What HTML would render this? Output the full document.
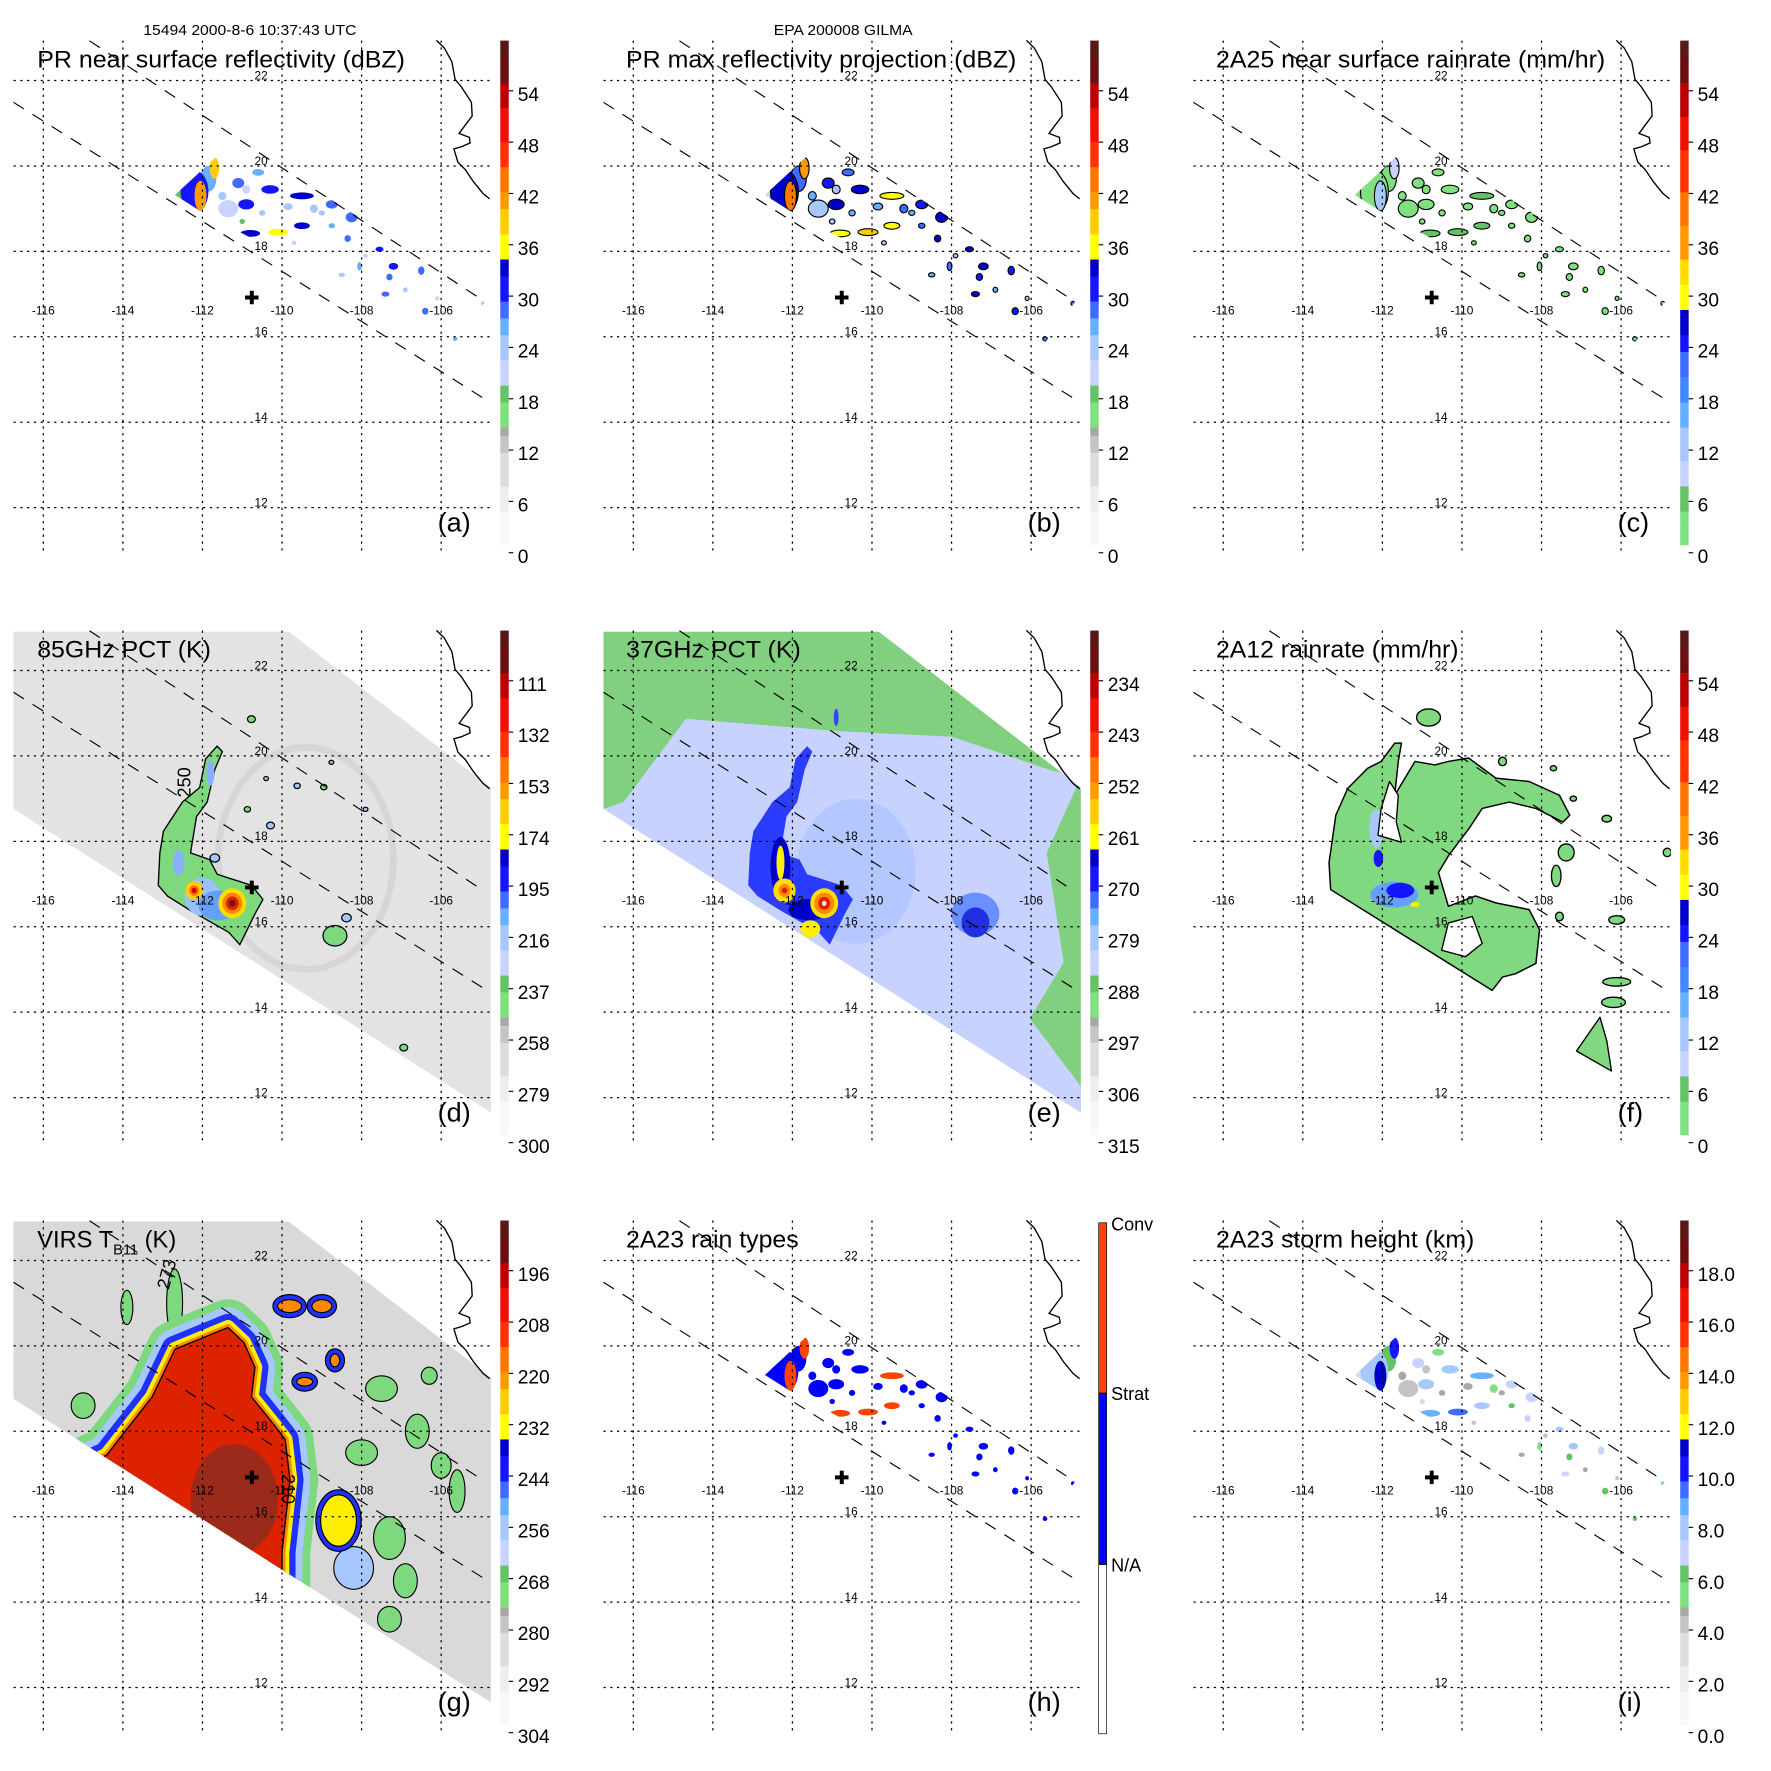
<!DOCTYPE html>
<html><head><meta charset="utf-8"><title>TRMM GILMA</title>
<style>html,body{margin:0;padding:0;background:#fff}svg{display:block}text{font-family:"Liberation Sans",sans-serif}</style>
</head><body>
<svg id="s" xmlns="http://www.w3.org/2000/svg" width="1771" height="1771" viewBox="0 0 1570 1570">
<rect x="0" y="0" width="1570" height="1570" fill="#fff"/>
<defs>
<clipPath id="plotclip"><rect x="12" y="36" width="424" height="454"/></clipPath>
<clipPath id="tmiclip"><polygon id="tmipoly" points=""/></clipPath>
<clipPath id="prclip"><polygon id="prpoly" points=""/></clipPath>
</defs>
<text x="127" y="31" font-size="13" textLength="189" lengthAdjust="spacingAndGlyphs">15494 2000-8-6 10:37:43 UTC</text>
<text x="686" y="31" font-size="13" textLength="123" lengthAdjust="spacingAndGlyphs">EPA 200008 GILMA</text>
</svg>
<script>
// ---------- data ----------
const lonTicks=[-116,-114,-112,-110,-108,-106];
const latTicks=[22,20,18,16,14,12];
const stormLon=-110.76, stormLat=16.92;
const prSwathLon=[-112.69,-111.16,-104.84,-105.64,-111.84];
const prSwathLat=[19.32,20.64,16.89,15.88,18.82];
const tmiSwathLon=[-116.75,-109.83,-104.75,-104.75,-116.75];
const tmiSwathLat=[22.91,22.91,19.26,11.65,18.76];
const prEdgeLon=[[-114.84,-104.90],[-116.75,-104.90]];
const prEdgeLat=[[22.93,16.82],[21.49,14.54]];
const coastLon=[-106.12,-105.92,-105.73,-105.65,-105.49,-105.24,-105.22,-105.44,-105.55,-105.29,-105.27,-105.49,-105.68,-105.58,-105.39,-105.19,-104.95,-104.78];
const coastLat=[22.94,22.76,22.44,22.03,21.85,21.49,21.17,20.90,20.76,20.67,20.54,20.45,20.40,20.09,19.91,19.63,19.36,19.23];
// PR echoes
const echoLon=[-112.2,-112.05,-112.55,-111.7,-111.85,-111.1,-110.9,-110.3,-109.5,-108.75,-108.25,-110.8,-110.1,-109.5,-111.35,-110.6,-109.2,-108.35,-108.75,-107.55,-107.2,-107.3,-106.5,-107.4,-106.4,-106.3,-105.65,-104.95,-108.55,-108.05,-108.5,-107.75,-107.0,-106.8,-109.85,-110.9,-111.5,-110.5,-109.0,-107.9,-106.9,-106.1,-111.0,-109.7];
const echoLat=[19.4,19.3,19.4,19.95,19.7,19.6,19.1,19.45,19.3,19.1,18.8,18.42,18.45,18.6,19.0,19.85,19.0,18.3,18.6,18.05,17.65,17.4,17.55,17.0,16.6,16.1,15.95,16.78,16.9,17.65,17.45,16.65,16.4,16.1,19.05,19.45,19.3,18.9,18.9,17.9,17.1,16.9,18.7,18.2];
const echoRLon=[0.35,0.15,0.2,0.12,0.2,0.15,0.2,0.22,0.3,0.15,0.15,0.25,0.25,0.2,0.25,0.15,0.1,0.08,0.08,0.1,0.12,0.08,0.08,0.1,0.08,0.12,0.06,0.05,0.08,0.06,0.08,0.08,0.06,0.06,0.12,0.1,0.1,0.08,0.08,0.06,0.06,0.05,0.07,0.06];
const echoRLat=[0.5,0.35,0.2,0.25,0.3,0.12,0.12,0.1,0.08,0.1,0.12,0.08,0.08,0.08,0.2,0.08,0.1,0.08,0.06,0.06,0.08,0.08,0.1,0.06,0.08,0.06,0.05,0.05,0.05,0.1,0.05,0.06,0.06,0.06,0.08,0.1,0.1,0.07,0.06,0.05,0.06,0.05,0.06,0.05];
const echoDbz=[30,40,18,38,26,28,30,31,33,28,29,34,36,32,21,25,24,29,26,30,30,27,28,29,27,32,26,24,28,25,22,26,22,24,22,20,23,22,23,21,22,21,19,20];
// 85GHz rain band
const bandLon=[-111.63,-111.92,-112.07,-112.50,-112.98,-113.07,-113.11,-112.88,-112.30,-111.34,-111.06,-110.68,-110.48,-110.77,-111.34,-111.63,-111.82,-112.30,-112.15,-111.88,-111.69,-111.50];
const bandLat=[20.23,19.93,19.26,18.92,18.24,17.73,16.97,16.72,16.38,15.87,15.58,16.30,16.64,16.97,17.14,17.23,17.57,17.73,18.58,18.92,19.68,20.10];
const islandLon=[-110.77,-109.62,-108.95,-110.29,-110.87,-111.69,-108.67,-108.38,-106.94,-107.90,-108.76,-110.40];
const islandLat=[20.86,19.30,19.27,18.37,18.75,17.61,15.79,16.21,13.17,18.75,19.85,19.47];
const islandR=[0.1,0.08,0.08,0.1,0.08,0.12,0.3,0.12,0.1,0.06,0.06,0.06];
// 37GHz lavender zone
const lavLon=[-116.24,-114.68,-110.85,-107.99,-105.49,-104.75,-105.61,-105.18,-106.03,-104.75,-104.75,-116.75];
const lavLat=[18.92,20.87,20.58,20.45,19.66,19.5,17.73,15.17,13.85,12.26,11.65,18.76];
// 2A12 rain shield
const rainLon=[-113.30,-113.34,-113.17,-112.87,-112.37,-112.03,-111.69,-111.52,-111.60,-111.69,-111.18,-110.68,-110.34,-109.83,-109.15,-108.31,-107.55,-107.29,-107.46,-108.14,-108.81,-109.49,-109.83,-110.34,-110.59,-110.34,-109.66,-109.15,-108.31,-108.05,-108.14,-108.65,-108.98,-109.24];
const rainLat=[16.87,17.50,18.61,19.24,19.71,19.87,20.30,20.30,19.87,19.08,19.87,19.79,19.87,19.95,19.48,19.40,19.08,18.61,18.45,18.77,18.92,18.77,18.29,17.66,17.27,16.48,16.72,16.56,16.40,15.93,15.14,14.90,14.82,14.51];
const chanLon=[-112.11,-112.03,-111.82,-111.60,-111.65,-111.52];
const chanLat=[18.14,18.77,19.40,19.08,18.45,17.98];
const holeLon=[-110.34,-109.74,-109.49,-109.91,-110.51];
const holeLat=[16.09,16.24,15.61,15.30,15.45];
const tailLon=[-107.12,-106.53,-106.36,-106.24];
const tailLat=[13.09,13.88,13.33,12.62];
const rIsleLon=[-106.11,-106.19,-104.84,-107.38,-107.63,-107.55,-106.11,-106.36,-107.2,-107.7,-110.84,-108.98];
const rIsleLat=[14.71,14.23,17.74,17.74,17.19,16.24,16.16,18.53,19.0,19.71,20.9,19.87];
const rIsleRLon=[0.35,0.3,0.1,0.2,0.12,0.1,0.2,0.12,0.08,0.08,0.3,0.1];
const rIsleRLat=[0.1,0.12,0.1,0.2,0.25,0.1,0.1,0.08,0.06,0.06,0.2,0.1];
// VIRS cold cloud
const coldLon=[-115.39,-114.41,-113.26,-112.69,-111.36,-110.96,-110.68,-110.77,-110.20,-109.92,-109.80,-110.00,-110.00];
const coldLat=[17.02,17.44,18.81,19.92,20.43,20.08,19.50,18.81,18.15,17.81,16.86,15.17,13.85];
const cellLon=[-109.81,-109.0,-108.67,-109.43,-108.58];
const cellLat=[20.93,20.93,19.66,19.16,15.91];
const cellRLon=[0.3,0.25,0.12,0.2,0.45];
const cellRLat=[0.15,0.15,0.15,0.1,0.6];
const greenLon=[-107.5,-106.6,-106.0,-107.3,-106.9,-105.6,-112.7,-115.0,-107.3,-113.9,-108.0,-106.3,-108.2];
const greenLat=[19.0,18.0,17.2,15.5,14.5,16.6,21.0,18.6,13.6,20.9,17.5,19.3,14.8];
const greenRLon=[0.4,0.3,0.25,0.4,0.3,0.2,0.2,0.3,0.3,0.15,0.4,0.2,0.5];
const greenRLat=[0.3,0.4,0.3,0.5,0.4,0.5,0.8,0.3,0.3,0.4,0.3,0.2,0.5];
// colorbar labels (bottom -> top)
const lblDbz=['0','6','12','18','24','30','36','42','48','54'];
const lbl85=['300','279','258','237','216','195','174','153','132','111'];
const lbl37=['315','306','297','288','279','270','261','252','243','234'];
const lblVirs=['304','292','280','268','256','244','232','220','208','196'];
const lblHgt=['0.0','2.0','4.0','6.0','8.0','10.0','12.0','14.0','16.0','18.0'];

// ---------- helpers ----------
const NS='http://www.w3.org/2000/svg';
const svg=document.getElementById('s');
const X=lon=>38.4+(lon+116)*35.27;
const Y=lat=>71.4+(22-lat)*37.86;
function mk(tag,parent,name){
  const e=document.createElementNS(NS,tag);
  
  
  parent.appendChild(e);return e;
}
function at(e,o){for(const k in o)e.setAttribute(k,o[k]);return e;}
function pts(lons,lats){return lons.map((l,i)=>X(l).toFixed(1)+','+Y(lats[i]).toFixed(1)).join(' ');}
function ell(p,name,lon,lat,rl,rt,fill,stroke,sw){
  const e=mk('ellipse',p,name);
  at(e,{cx:X(lon),cy:Y(lat),rx:rl*35.27,ry:rt*37.86,fill:fill,stroke:stroke||'none','stroke-width':sw||0});return e;
}
function poly(p,name,lons,lats,fill,stroke,sw){
  const e=mk('polygon',p,name);
  at(e,{points:pts(lons,lats),fill:fill,stroke:stroke||'none','stroke-width':sw||0,'stroke-linejoin':'round'});return e;
}
document.getElementById('tmipoly').setAttribute('points',pts(tmiSwathLon,tmiSwathLat));
document.getElementById('prpoly').setAttribute('points',pts(prSwathLon,prSwathLat));

const cmA=[[0,'#f8f8f8'],[0.06,'#eeeeee'],[0.12,'#dddddd'],[0.18,'#c4c4c4'],[0.21,'#a8a8a8'],[0.238,'#80e080'],[0.28,'#66c266'],[0.322,'#c8d4ff'],[0.36,'#a6c8ff'],[0.41,'#66b0ff'],[0.45,'#3f6cff'],[0.49,'#1515ff'],[0.53,'#0000c8'],[0.575,'#ffff00'],[0.62,'#ffcc00'],[0.66,'#ff9900'],[0.70,'#ff7700'],[0.743,'#ff3300'],[0.80,'#ee1100'],[0.86,'#bb0000'],[0.916,'#6a1010'],[0.96,'#581818']];
const cmC=[[0,'#80e080'],[0.06,'#66c266'],[0.117,'#c8d4ff'],[0.17,'#a6c8ff'],[0.23,'#66b0ff'],[0.29,'#4488ff'],[0.34,'#3f6cff'],[0.38,'#1515ff'],[0.42,'#0000c8'],[0.46,'#ffff00'],[0.52,'#ffdd00'],[0.575,'#ff9900'],[0.64,'#ff7700'],[0.695,'#ff3300'],[0.78,'#ee1100'],[0.85,'#bb0000'],[0.916,'#6a1010'],[0.96,'#581818']];
function cm(map,f){let c=map[0][1];for(const s of map){if(f>=s[0])c=s[1];}return c;}

const order=echoDbz.map((v,i)=>i).sort((a,b)=>echoDbz[a]-echoDbz[b]);
function echoes(p,colorFn,stroke){
  const g=mk('g',p,'pr-echoes');
  g.setAttribute('clip-path','url(#prclip)');
  for(const i of order){
    const c=colorFn(echoDbz[i]);
    if(!c)continue;
    ell(g,'echo',echoLon[i],echoLat[i],echoRLon[i],echoRLat[i],c,stroke?'#000':'none',stroke?1:0);
  }
}

const panels=[
 {c:0,r:0,t:'PR near surface reflectivity (dBZ)',tw:326,l:'(a)',k:'a',bar:cmA,lbl:lblDbz},
 {c:1,r:0,t:'PR max reflectivity projection (dBZ)',tw:346,l:'(b)',k:'b',bar:cmA,lbl:lblDbz},
 {c:2,r:0,t:'2A25 near surface rainrate (mm/hr)',tw:345,l:'(c)',k:'c',bar:cmC,lbl:lblDbz},
 {c:0,r:1,t:'85GHz PCT (K)',tw:154,l:'(d)',k:'d',bar:cmA,lbl:lbl85},
 {c:1,r:1,t:'37GHz PCT (K)',tw:155,l:'(e)',k:'e',bar:cmA,lbl:lbl37},
 {c:2,r:1,t:'2A12 rainrate (mm/hr)',tw:215,l:'(f)',k:'f',bar:cmC,lbl:lblDbz},
 {c:0,r:2,t:'VIRS',tw:0,l:'(g)',k:'g',bar:cmA,lbl:lblVirs},
 {c:1,r:2,t:'2A23 rain types',tw:153,l:'(h)',k:'h',bar:null,lbl:null},
 {c:2,r:2,t:'2A23 storm height (km)',tw:229,l:'(i)',k:'i',bar:cmA,lbl:lblHgt}
];

function content(k,g){
  if(k==='a'){echoes(g,v=>cm(cmA,v/60),false);}
  if(k==='b'){echoes(g,v=>cm(cmA,(v+3)/60),true);}
  if(k==='c'){echoes(g,v=>cm(cmC,Math.pow(10,(v-23)/16)/60),true);}
  if(k==='h'){echoes(g,v=>v>=32?'#ff4400':'#0000ff',false);}
  if(k==='i'){echoes(g,v=>cm(cmA,(3+(v-18)*0.35)/20),false);}
  if(k==='d'||k==='e'||k==='f'||k==='g'){
    const s=mk('g',g,'tmi-swath');
    s.setAttribute('clip-path','url(#tmiclip)');
    if(k==='d'){
      poly(s,'swath-fill',tmiSwathLon,tmiSwathLat,'#e3e3e3');
      ell(s,'eyewall-ring',-109.4,17.6,2.2,2.6,'none','#d6d6d6',6);
      poly(s,'rain-band',bandLon,bandLat,'#7ed87e','#000',1.2);
      ell(s,'band-blue',-112.0,16.7,0.45,0.45,'#99c0ff');
      ell(s,'band-blue',-111.6,16.5,0.5,0.35,'#66a0ff');
      ell(s,'band-blue',-112.6,17.5,0.15,0.3,'#88b0ff');
      ell(s,'band-blue',-111.8,19.6,0.1,0.3,'#88b0ff');
      ell(s,'core',-112.21,16.85,0.22,0.22,'#ffcc00');
      ell(s,'core',-112.21,16.85,0.12,0.12,'#ff6600');
      ell(s,'core',-112.21,16.85,0.06,0.06,'#cc0000');
      ell(s,'core',-111.25,16.55,0.35,0.35,'#ffdd00');
      ell(s,'core',-111.25,16.55,0.25,0.25,'#ff8800');
      ell(s,'core',-111.25,16.55,0.16,0.16,'#dd2200');
      ell(s,'core',-111.25,16.55,0.08,0.08,'#7a1010');
      islandLon.forEach((l,i)=>ell(s,'contour-island',l,islandLat[i],islandR[i],islandR[i]*0.8,i%2?'#a6c8ff':'#7ed87e','#000',1.1));
      const t=mk('text',s,'contour-label');
      at(t,{x:0,y:0,'font-size':16,transform:`translate(${X(-112.3)},${Y(19.38)}) rotate(-90)`,'text-anchor':'middle'});t.textContent='250';
    }
    if(k==='e'){
      poly(s,'swath-fill',tmiSwathLon,tmiSwathLat,'#80d080');
      poly(s,'warm-zone',lavLon,lavLat,'#c8d2ff');
      ell(s,'scatter-zone',-110.4,17.3,1.5,1.7,'#b4c8ff');
      ell(s,'scatter-zone',-107.4,16.3,0.6,0.5,'#6a90ff');
      ell(s,'scatter-core',-107.4,16.1,0.35,0.35,'#2030e0');
      poly(s,'rain-band',bandLon,bandLat,'#2a3cff');
      ell(s,'band-dark',-112.3,17.4,0.25,0.7,'#0000c8');
      ell(s,'band-dark',-111.6,16.4,0.5,0.25,'#0000c8');
      ell(s,'band-yellow',-112.3,17.5,0.1,0.4,'#ffee00');
      ell(s,'band-yellow',-111.55,15.95,0.25,0.2,'#ffee00');
      ell(s,'core',-112.2,16.85,0.28,0.28,'#ffdd00');
      ell(s,'core',-112.2,16.85,0.15,0.15,'#ff8800');
      ell(s,'core',-112.2,16.85,0.07,0.07,'#dd2200');
      ell(s,'core',-111.2,16.55,0.35,0.35,'#ffdd00');
      ell(s,'core',-111.2,16.55,0.25,0.25,'#ff8800');
      ell(s,'core',-111.2,16.55,0.15,0.15,'#dd2200');
      ell(s,'core',-111.2,16.55,0.06,0.06,'#ffe0e0');
      ell(s,'cell',-110.9,20.9,0.06,0.2,'#3344ff');
    }
    if(k==='f'){
      poly(s,'rain-shield',rainLon,rainLat,'#80d880','#000',1.3);
      ell(s,'rain-blue',-112.15,18.3,0.18,0.45,'#a6c8ff');
      ell(s,'rain-blue',-111.7,16.75,0.6,0.3,'#66a0ff');
      ell(s,'rain-blue',-111.55,16.85,0.35,0.18,'#1515ff');
      ell(s,'rain-blue',-112.1,17.6,0.12,0.2,'#1515ff');
      ell(s,'rain-yellow',-111.18,16.52,0.12,0.06,'#ffee00');
      poly(s,'dry-channel',chanLon,chanLat,'#fff','#000',1.2);
      poly(s,'dry-hole',holeLon,holeLat,'#fff','#000',1.2);
      poly(s,'rain-tail',tailLon,tailLat,'#80d880','#000',1.2);
      rIsleLon.forEach((l,i)=>ell(s,'rain-island',l,rIsleLat[i],rIsleRLon[i],rIsleRLat[i],'#80d880','#000',1.2));
    }
    if(k==='g'){
      poly(s,'swath-fill',tmiSwathLon,tmiSwathLat,'#d9d9d9');
      greenLon.forEach((l,i)=>ell(s,'warm-cloud',l,greenLat[i],greenRLon[i],greenRLat[i],i===12?'#a6c8ff':'#7ed87e','#000',1));
      const bands=[['#7ed87e',50],['#a6c8ff',36],['#2030ff',24],['#ffee00',13],['#ff8800',6]];
      bands.forEach(b=>{poly(s,'cloud-band',coldLon,coldLat,'none',b[0],b[1]);});
      poly(s,'cold-cloud',coldLon,coldLat,'#dd2200','#000',1.2);
      ell(s,'coldest-cloud',-111.2,16.4,1.1,1.3,'#9c2a1a');
      cellLon.forEach((l,i)=>{
        ell(s,'cell-ring',l,cellLat[i],cellRLon[i]+0.12,cellRLat[i]+0.12,'#2030ff','#000',1);
        ell(s,'cell',l,cellLat[i],cellRLon[i],cellRLat[i],i===4?'#ffee00':'#ff8800','#000',1);
      });
      const t1=mk('text',s,'contour-label');
      at(t1,{x:0,y:0,'font-size':16,transform:`translate(${X(-112.85)},${Y(21.3)}) rotate(-75)`});t1.textContent='273';
      const t2=mk('text',s,'contour-label');
      at(t2,{x:0,y:0,'font-size':16,transform:`translate(${X(-110.0)},${Y(17.0)}) rotate(90)`});t2.textContent='210';
    }
  }
}

panels.forEach(P=>{
  const pg=mk('g',svg,'panel-'+P.k);
  pg.setAttribute('transform',`translate(${P.c*523},${P.r*523})`);
  const cg=mk('g',pg,'map-area');
  cg.setAttribute('clip-path','url(#plotclip)');
  content(P.k,cg);
  const gg=mk('g',pg,'graticule');
  lonTicks.forEach(l=>{const e=mk('line',gg,'meridian');at(e,{x1:X(l),x2:X(l),y1:36,y2:490,stroke:'#000','stroke-width':1.1,'stroke-dasharray':'2 4'});});
  latTicks.forEach(l=>{const e=mk('line',gg,'parallel');at(e,{x1:12,x2:435,y1:Y(l),y2:Y(l),stroke:'#000','stroke-width':1.1,'stroke-dasharray':'2 4'});});
  prEdgeLon.forEach((a,i)=>{const e=mk('line',pg,'pr-swath-edge');at(e,{x1:X(a[0]),y1:Y(prEdgeLat[i][0]),x2:X(a[1]),y2:Y(prEdgeLat[i][1]),stroke:'#000','stroke-width':1,'stroke-dasharray':'11 9'});});
  const cl=mk('polyline',pg,'coastline');at(cl,{points:pts(coastLon,coastLat),fill:'none',stroke:'#000','stroke-width':1.2});
  const cr=mk('path',pg,'storm-center');
  const cx=X(stormLon),cy=Y(stormLat);
  at(cr,{d:`M${cx-6} ${cy}h12M${cx} ${cy-6}v12`,stroke:'#000','stroke-width':3.5});
  latTicks.forEach(l=>{const t=mk('text',pg,'lat-label');at(t,{x:231.5,y:Y(l)-1,'font-size':10.5,'text-anchor':'middle'});t.textContent=String(l);});
  lonTicks.forEach(l=>{const t=mk('text',pg,'lon-label');at(t,{x:X(l),y:279,'font-size':10.5,'text-anchor':'middle'});t.textContent=String(l);});
  const tt=mk('text',pg,'panel-title');
  at(tt,{x:P.c===0?33:32,y:60,'font-size':21});
  if(P.k==='g'){
    tt.textContent='VIRS T';
    const sub=mk('tspan',tt,'title-subscript');at(sub,{'font-size':13,dy:6});sub.textContent='B11';
    const rest=mk('tspan',tt,'title-unit');at(rest,{dy:-6,'font-size':21});rest.textContent=' (K)';
  } else {
    at(tt,{textLength:P.tw,lengthAdjust:'spacingAndGlyphs'});
    tt.textContent=P.t;
  }
  const lt=mk('text',pg,'panel-letter');at(lt,{x:388,y:471,'font-size':24});lt.textContent=P.l;
  const cb=mk('g',pg,'colorbar');
  if(P.bar){
    const n=60;
    for(let i=0;i<n;i++){
      const r=mk('rect',cb,'colorbar-bin');
      const y1=483-(i+1)*447/n;
      at(r,{x:443.5,y:y1.toFixed(2),width:7.5,height:(447/n+0.4).toFixed(2),fill:cm(P.bar,(i+0.5)/n)});
    }
    P.lbl.forEach((s,i)=>{
      const tk=mk('line',cb,'colorbar-tick');at(tk,{x1:451,x2:455,y1:490-i*45.5,y2:490-i*45.5,stroke:'#000','stroke-width':1});
      const t=mk('text',cb,'colorbar-label');at(t,{x:459,y:499-i*45.5,'font-size':17});t.textContent=s;
    });
  } else {
    const secs=[['#ff4400',38,189],['#0000ff',189,341],['#ffffff',341,491]];
    secs.forEach(sc=>{const r=mk('rect',cb,'colorbar-segment');at(r,{x:451,y:sc[1],width:7,height:sc[2]-sc[1],fill:sc[0],stroke:'#000','stroke-width':0.6});});
    [['Conv',45],['Strat',195],['N/A',347]].forEach(a=>{const t=mk('text',cb,'colorbar-label');at(t,{x:462,y:a[1],'font-size':16});t.textContent=a[0];});
  }
});
</script>
</body></html>
